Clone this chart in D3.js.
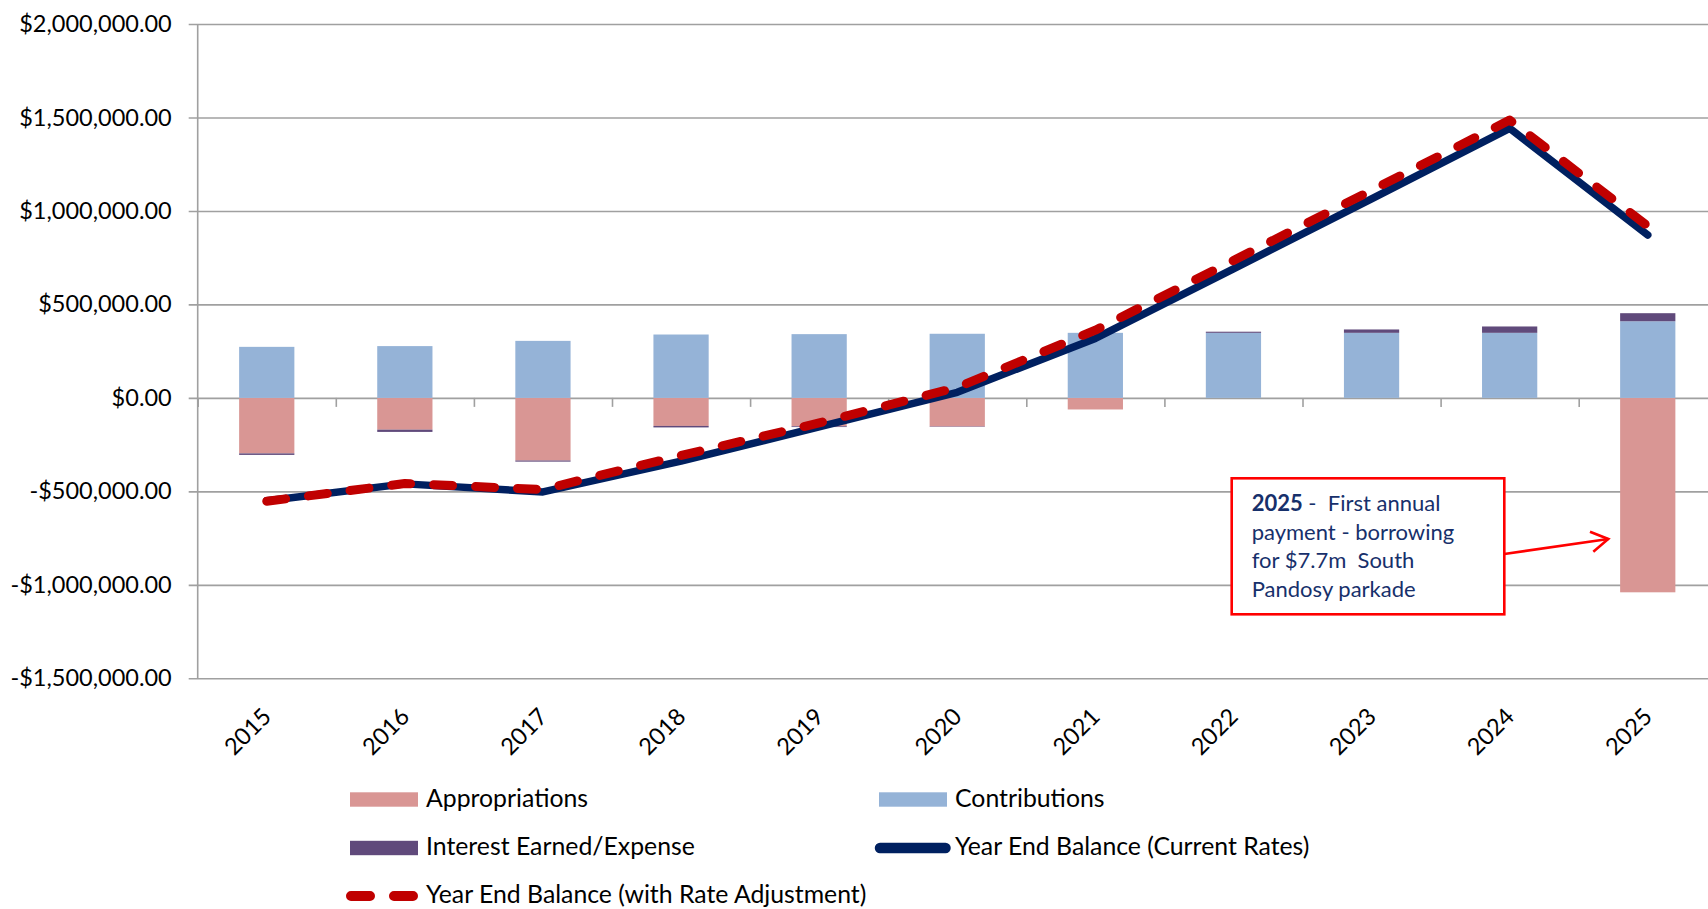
<!DOCTYPE html>
<html>
<head>
<meta charset="utf-8">
<script src="https://cdn.jsdelivr.net/npm/d3@7"></script>
<style>
  body { margin: 0; background: #fff; }
  svg { display: block; font-family: Lato, "Open Sans", sans-serif; }
</style>
</head>
<body>
<div id="chart"></div>
<script>
// values
const years = ['2015', '2016', '2017', '2018', '2019', '2020', '2021', '2022', '2023', '2024', '2025'];
const appropriations = [-297000, -170000, -335000, -150000, -152000, -153000, -62000, 0, 0, 0, -1040000];
const contributions = [273000, 277000, 305000, 339000, 341000, 343000, 348000, 348000, 348000, 348000, 410000];
const interest = [-8000, -12000, -6000, -8000, -4000, -2000, 0, 6000, 18000, 34000, 43000];
const balanceCurrent = [-550000, -460000, -503000, -338000, -155000, 30000, 318000, 690000, 1065000, 1442000, 871000];
const balanceAdjusted = [-553000, -458000, -490000, -308000, -134000, 56000, 362000, 735000, 1110000, 1486000, 919000];
const yTicks = [-1500000, -1000000, -500000, 0, 500000, 1000000, 1500000, 2000000];

const svgWidth = 1708;
const svgHeight = 909;
const plotLeft = 197.7, plotRight = 1716.8, plotTop = 24, plotBottom = 678.3;

const colors = {
    Appropriations: '#D99694',
    Contributions: '#95B3D7',
    Interest: '#604A7B'
};

const svg = d3.select('#chart')
              .append('svg')
              .attr('width', svgWidth)
              .attr('height', svgHeight);

const x = d3.scaleBand()
            .domain(years)
            .range([plotLeft, plotRight])
            .paddingInner(0.6)
            .paddingOuter(0.3);

const xEdge = d3.scaleLinear()
                .domain([0, years.length])
                .range([plotLeft, plotRight]);

const y = d3.scaleLinear()
            .domain([-1500000, 2000000])
            .range([plotBottom, plotTop]);

const money = v => (v < 0 ? '-' : '') + '$' + d3.format(',.2f')(Math.abs(v));

// gridlines + y labels
const yAxis = svg.append('g')
   .attr('transform', `translate(${plotLeft - 9},0)`)
   .call(d3.axisLeft(y).tickValues(yTicks).tickSize(-(svgWidth - plotLeft + 20)).tickPadding(17).tickFormat(money));
yAxis.select('.domain').remove();
yAxis.selectAll('line').attr('stroke', '#A0A0A0').attr('stroke-width', 1.6);
yAxis.selectAll('text')
     .attr('font-size', 23.5)
     .attr('fill', '#000')
     .attr('font-family', 'Lato, sans-serif');

svg.append('line')
   .attr('x1', plotLeft).attr('x2', plotLeft)
   .attr('y1', plotTop).attr('y2', plotBottom)
   .attr('stroke', '#A0A0A0')
   .attr('stroke-width', 1.6);

// category ticks on the zero line
const xAxis = svg.append('g')
   .attr('transform', `translate(0,${y(0)})`)
   .call(d3.axisBottom(xEdge).ticks(years.length).tickSize(9).tickFormat(''));
xAxis.select('.domain').remove();
xAxis.selectAll('line').attr('stroke', '#A0A0A0').attr('stroke-width', 1.6);

// stacked bars
const rows = years.map((yr, i) => ({
    year: yr,
    Appropriations: appropriations[i],
    Contributions: contributions[i],
    Interest: interest[i]
}));

const series = d3.stack()
                 .keys(['Appropriations', 'Contributions', 'Interest'])
                 .offset(d3.stackOffsetDiverging)(rows);

svg.append('g')
   .selectAll('g')
   .data(series)
   .enter()
   .append('g')
   .attr('fill', d => colors[d.key])
   .selectAll('rect')
   .data(d => d)
   .enter()
   .append('rect')
   .attr('x', d => x(d.data.year))
   .attr('width', x.bandwidth())
   .attr('y', d => y(Math.max(d[0], d[1])))
   .attr('height', d => Math.abs(y(d[0]) - y(d[1])));

// balance lines
const line = d3.line()
               .x((d, i) => x(years[i]) + x.bandwidth() / 2)
               .y(d => y(d));

svg.append('path')
   .datum(balanceCurrent)
   .attr('d', line)
   .attr('fill', 'none')
   .attr('stroke', '#002060')
   .attr('stroke-width', 7.5)
   .attr('stroke-linejoin', 'round')
   .attr('stroke-linecap', 'round');

svg.append('path')
   .datum(balanceAdjusted)
   .attr('d', line)
   .attr('fill', 'none')
   .attr('stroke', '#C00000')
   .attr('stroke-width', 9)
   .attr('stroke-dasharray', '19,23')
   .attr('stroke-linejoin', 'round')
   .attr('stroke-linecap', 'round');

// year labels
svg.append('g')
   .selectAll('text')
   .data(years)
   .enter()
   .append('text')
   .attr('transform', d => `translate(${x(d) + x.bandwidth() / 2 + 6},718) rotate(-45)`)
   .attr('text-anchor', 'end')
   .attr('font-size', 23.5)
   .attr('fill', '#000')
   .text(d => d);

// annotation
const note = svg.append('g');
note.append('rect')
    .attr('x', 1231.7).attr('y', 478.3)
    .attr('width', 272.6).attr('height', 136)
    .attr('fill', '#fff')
    .attr('stroke', '#FF0000')
    .attr('stroke-width', 2.6);

const noteLines = [
    [['2025', true], [' -  First annual', false]],
    [['payment - borrowing', false]],
    [['for $7.7m  South', false]],
    [['Pandosy parkade', false]]
];
noteLines.forEach((parts, i) => {
    const t = note.append('text')
        .attr('x', 1251.7)
        .attr('y', 511 + i * 28.5)
        .attr('font-size', 22)
        .attr('fill', '#17306B')
        .attr('xml:space', 'preserve');
    parts.forEach(p => {
        t.append('tspan')
         .attr('font-weight', p[1] ? 'bold' : 'normal')
         .text(p[0]);
    });
});

note.append('line')
    .attr('x1', 1504.3).attr('y1', 554)
    .attr('x2', 1608.3).attr('y2', 539)
    .attr('stroke', '#FF0000')
    .attr('stroke-width', 2.6);
note.append('path')
    .attr('d', 'M1590,531.7 L1608.3,539 L1593.3,551.7')
    .attr('fill', 'none')
    .attr('stroke', '#FF0000')
    .attr('stroke-width', 2.6);

// legend
const legend = svg.append('g').attr('font-size', 24.8).attr('fill', '#000');

const legendBoxes = [
    { label: 'Appropriations', color: colors.Appropriations, x: 350, tx: 426, cy: 799.5 },
    { label: 'Contributions', color: colors.Contributions, x: 879, tx: 955, cy: 799.5 },
    { label: 'Interest Earned/Expense', color: colors.Interest, x: 350, tx: 426, cy: 848 }
];
legendBoxes.forEach(d => {
    legend.append('rect')
          .attr('x', d.x).attr('y', d.cy - 7.2)
          .attr('width', 68).attr('height', 14.4)
          .attr('fill', d.color);
    legend.append('text')
          .attr('x', d.tx).attr('y', d.cy)
          .attr('dy', '0.3em')
          .text(d.label);
});

legend.append('line')
      .attr('x1', 880).attr('x2', 945.5)
      .attr('y1', 848).attr('y2', 848)
      .attr('stroke', '#002060')
      .attr('stroke-width', 10.5)
      .attr('stroke-linecap', 'round');
legend.append('text')
      .attr('x', 955).attr('y', 848).attr('dy', '0.3em')
      .text('Year End Balance (Current Rates)');

legend.append('line')
      .attr('x1', 351).attr('x2', 413)
      .attr('y1', 896).attr('y2', 896)
      .attr('stroke', '#C00000')
      .attr('stroke-width', 10)
      .attr('stroke-dasharray', '19,24')
      .attr('stroke-linecap', 'round');
legend.append('text')
      .attr('x', 426).attr('y', 896).attr('dy', '0.3em')
      .text('Year End Balance (with Rate Adjustment)');
</script>
</body>
</html>
